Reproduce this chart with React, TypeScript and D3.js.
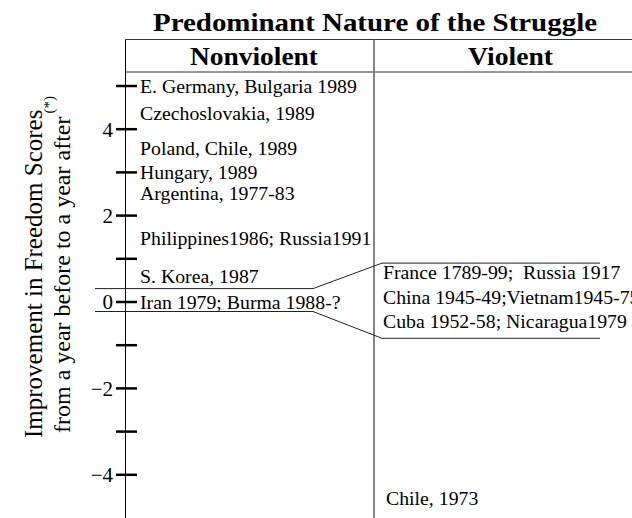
import React from 'react'
import * as d3 from 'd3'

const width = 632
const height = 518

// column boundaries of the table header
const axisX = 125.5
const dividerX = 374
const headerTop = 39.5
const headerBottom = 72

const title = 'Predominant Nature of the Struggle'
const columns = ['Nonviolent', 'Violent']

const tickValues = [5, 4, 3, 2, 1, 0, -1, -2, -3, -4]
const labelledTicks = [4, 2, 0, -2, -4]

// cases in each column, placed at their improvement score
const nonviolentCases = [
    'E. Germany, Bulgaria 1989',
    'Czechoslovakia, 1989',
    'Poland, Chile, 1989',
    'Hungary, 1989',
    'Argentina, 1977-83',
    'Philippines1986; Russia1991',
    'S. Korea, 1987',
    'Iran 1979; Burma 1988-?',
]
const nonviolentScores = [5, 4.37, 3.56, 3, 2.51, 1.49, 0.59, 0]

const violentCases = [
    'France 1789-99;  Russia 1917',
    'China 1945-49;Vietnam1945-75',
    'Cuba 1952-58; Nicaragua1979',
    'Chile, 1973',
]
const violentScores = [0.7, 0.12, -0.43, -4.55]

// the band around zero that is blown up on the violent side
const bandLeft = [0.31, -0.22]
const bandRight = [0.9, -0.84]

const serif = '"Liberation Serif", "Times New Roman", Times, serif'

export default function App() {

    const y = d3.scaleLinear().domain([-5, 5]).range([518, 86])
    const fmt = d3.format('d')

    const band = (i: number) => {
        const pts: [number, number][] = [
            [95, y(bandLeft[i])],
            [313, y(bandLeft[i])],
            [382, y(bandRight[i])],
            [600, y(bandRight[i])],
        ]
        return d3.line()(pts) as string
    }

    return (
        <svg width={width} height={height}
             style={{position: 'absolute', left: 0, top: 0, background: '#fff', fontFamily: serif}}>

            <text x={153} y={31} fontWeight="bold" fontSize={25} fontFamily={serif}
                  textLength={444} lengthAdjust="spacingAndGlyphs">{title}</text>

            {/* header box */}
            <line x1={axisX} x2={width} y1={headerTop} y2={headerTop} stroke="#333" strokeWidth={1.2} />
            <line x1={axisX} x2={width} y1={headerBottom} y2={headerBottom} stroke="#333" strokeWidth={1.2} />
            <text x={190} y={65} fontWeight="bold" fontSize={25} fontFamily={serif}
                  textLength={128} lengthAdjust="spacingAndGlyphs">{columns[0]}</text>
            <text x={468} y={65} fontWeight="bold" fontSize={25} fontFamily={serif}
                  textLength={85} lengthAdjust="spacingAndGlyphs">{columns[1]}</text>

            <line x1={dividerX} x2={dividerX} y1={headerTop} y2={height} stroke="#666" strokeWidth={1.6} />
            <line x1={axisX} x2={axisX} y1={headerTop} y2={height} stroke="#000" strokeWidth={1} />

            {tickValues.map(v => (
                <line key={v} x1={116} x2={137} y1={y(v)} y2={y(v)} stroke="#000" strokeWidth={2.5} />
            ))}
            {labelledTicks.map(v => (
                <text key={v} x={113} y={y(v)} dy="0.35em" textAnchor="end" fontSize={21}
                      fontFamily={serif}>{fmt(v)}</text>
            ))}

            <path d={band(0)} fill="none" stroke="#222" strokeWidth={1} />
            <path d={band(1)} fill="none" stroke="#222" strokeWidth={1} />

            {nonviolentCases.map((c, i) => (
                <text key={c} x={140} y={y(nonviolentScores[i])} dy="0.35em" fontSize={19.8}
                      fontFamily={serif}>{c}</text>
            ))}
            {violentCases.map((c, i) => (
                <text key={c} x={i === 3 ? 386 : 383} y={y(violentScores[i])} dy="0.35em" fontSize={19.8}
                      fontFamily={serif} style={{whiteSpace: 'pre'}}>{c}</text>
            ))}

            {/* y axis title */}
            <text transform="translate(42,438) rotate(-90)" fontSize={25} fontFamily={serif}>
                Improvement in Freedom Scores
            </text>
            <text transform="translate(70,433) rotate(-90)" fontSize={24} fontFamily={serif}>
                from a year before to a year after
                <tspan dx={3} dy={-16} fontSize={15}>(*)</tspan>
            </text>
        </svg>
    )
}
